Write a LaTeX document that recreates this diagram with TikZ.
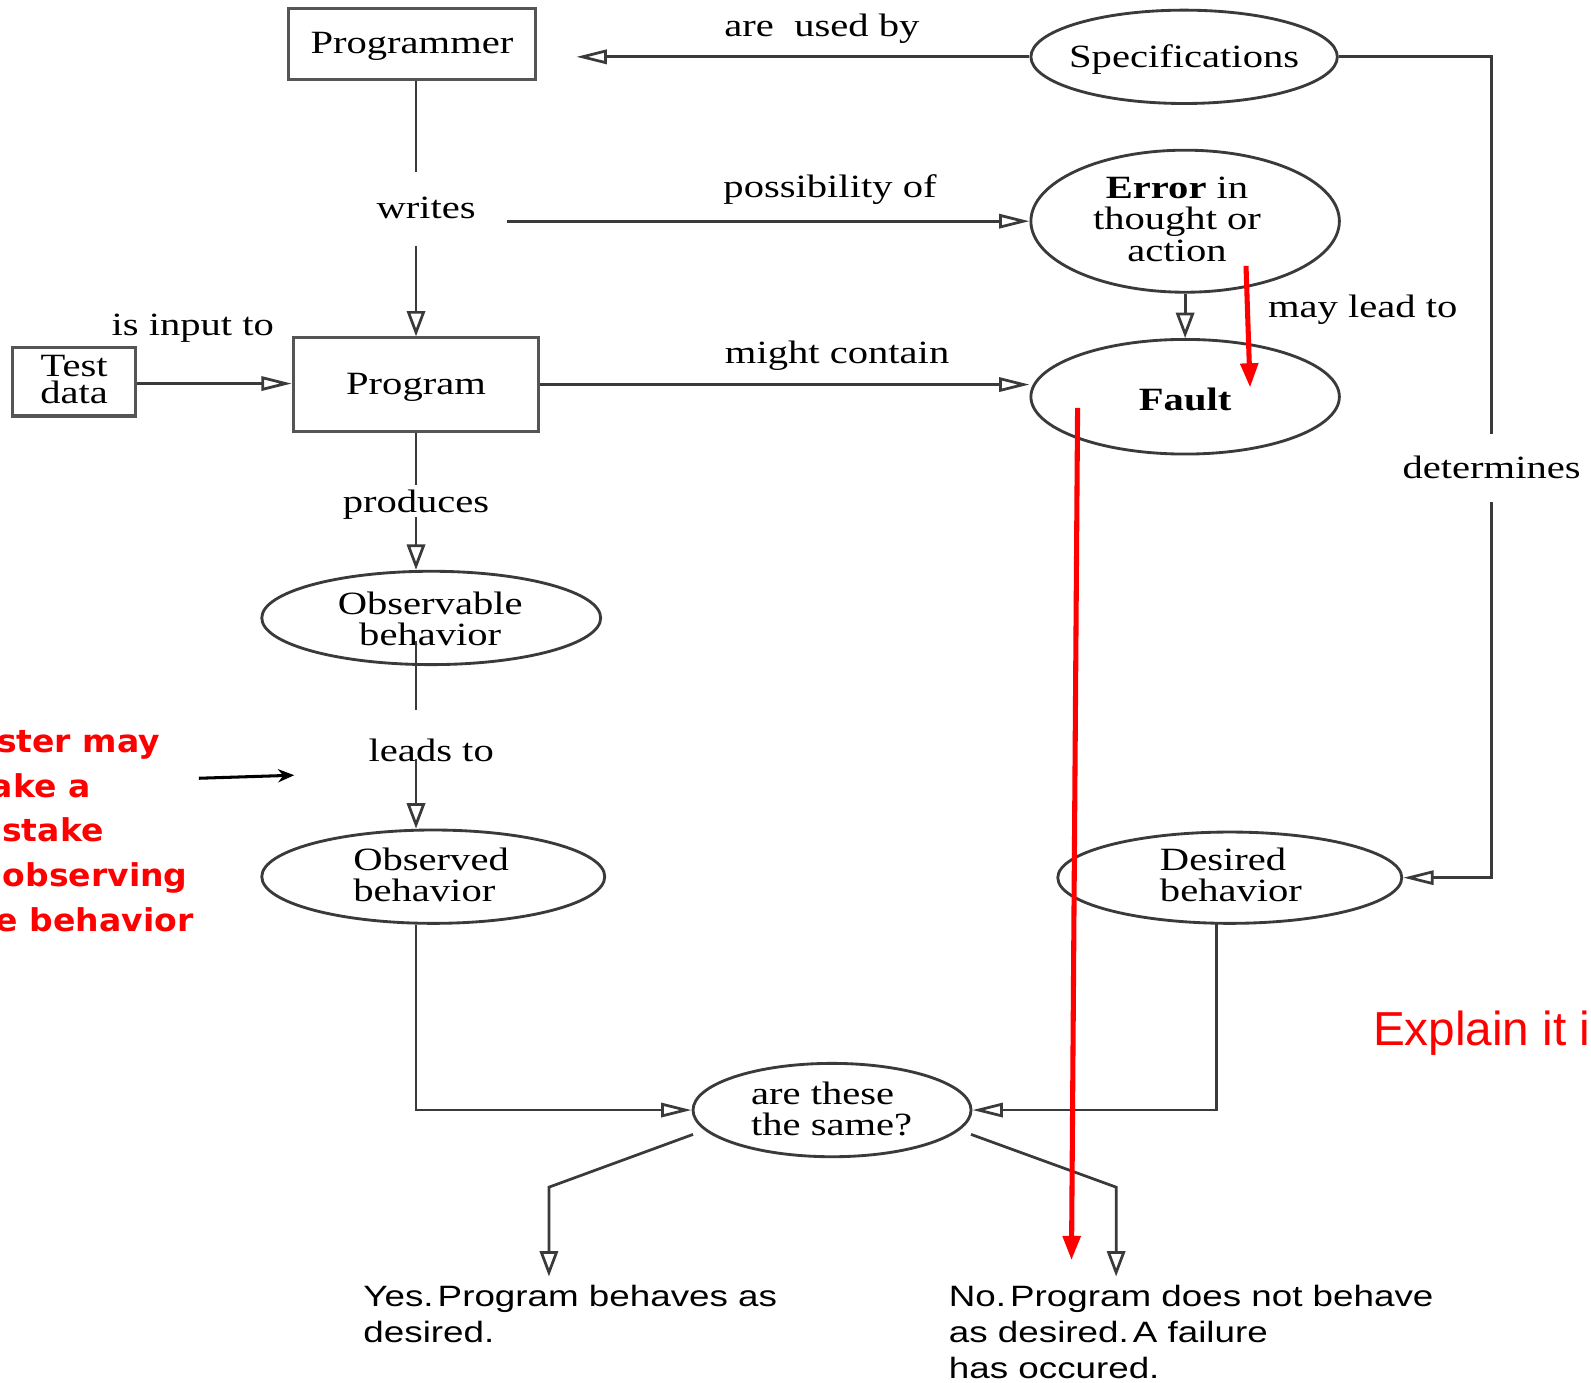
\documentclass[tikz,border=0pt]{standalone}
\usepackage{fontspec}
\usetikzlibrary{arrows.meta,shapes.geometric}
\newfontfamily\dgserif{Liberation Serif}[FakeStretch=1.25]
\newfontfamily\dgsans{Liberation Sans}[FakeStretch=1.25]
\newfontfamily\notefont{DejaVu Sans}[FakeStretch=1.05]
\newfontfamily\plainsans{Liberation Sans}
\definecolor{ln}{HTML}{3A3A3A}
\definecolor{boxc}{HTML}{555555}
\tikzset{
  base/.style={draw=ln, line width=2.7pt},
  harr/.style={-{Triangle[open,length=30pt,width=14pt]}},
  varr/.style={-{Triangle[open,length=25pt,width=18pt]}},
  box/.style={draw=boxc, line width=3pt, rectangle, inner sep=0pt,
    font=\dgserif\fontsize{32}{31}\selectfont, align=center,
    text height=22pt, text depth=2pt},
  oval/.style={draw=ln, line width=2.8pt, ellipse, inner sep=0pt},
  lbl/.style={font=\dgserif\fontsize{32}{31}\selectfont, inner sep=0pt, align=center},
  lbla/.style={lbl, yshift=-3pt},
  ans/.style={font=\dgsans\fontsize{29}{35.5}\selectfont, inner sep=0pt, align=left, anchor=north west},
  note/.style={text=red, font=\notefont\bfseries\fontsize{31}{44}\selectfont, align=left, inner sep=0pt},
  redarr/.style={draw=red, line width=5pt, -{Triangle[length=24pt,width=17pt]}},
}
\begin{document}
\begin{tikzpicture}[x=1pt,y=-1pt]
\useasboundingbox (0,0) rectangle (1568,1363);
\fill[white] (0,0) rectangle (1568,1363);
\clip (0,0) rectangle (1568,1363);

% boxes
\node[box, minimum width=244pt, minimum height=70pt] (pgmr) at (406,43) {Programmer};
\node[box, minimum width=242pt, minimum height=92pt] (prg) at (410,379) {Program};
\node[draw=boxc, line width=3pt, rectangle, inner sep=0pt, minimum width=122pt, minimum height=68pt] (test) at (73,376) {};
\node[lbl, font=\dgserif\fontsize{32}{26}\selectfont] (testt) at (73,374) {Test\\data};

% ellipses
\node[oval, minimum width=302pt, minimum height=92pt] (spec) at (1167,56) {};
\node[lbla] (spect) at (1167,56) {Specifications};
\node[oval, minimum width=304pt, minimum height=140pt] (err) at (1168,218) {};
\node[lbl] (errt) at (1160,216) {\textbf{Error} in\\thought or\\action};
\node[oval, minimum width=304pt, minimum height=113pt] (fault) at (1168,391) {};
\node[lbla] (faultt) at (1168,391) {\textbf{Fault}};
\node[oval, minimum width=334pt, minimum height=92pt] (obs) at (425,609) {};
\node[lbl] (obst) at (424,610) {Observable\\behavior};
\node[oval, minimum width=338pt, minimum height=92pt] (obsd) at (427,864) {};
\node[lbl, align=left, anchor=west] (obsdt) at (348,862) {Observed\\behavior};
\node[oval, minimum width=339pt, minimum height=90pt] (desired) at (1212,865) {};
\node[lbl, align=left, anchor=west] (desiredt) at (1143,862) {Desired\\behavior};
\node[oval, minimum width=274pt, minimum height=92pt] (same) at (820,1094) {};
\node[lbl, align=left, anchor=west] (samet) at (740,1093) {are these\\the same?};

% connector labels
\node[lbla] (usedby) at (810,25) {are\ \ used by};
\node[lbla] (writes) at (420,202) {writes};
\node[lbla] (possib) at (818,184) {possibility of};
\node[lbla] (maylead) at (1343,302) {may lead to};
\node[lbla] (input) at (190,320) {is input to};
\node[lbla] (might) at (825,348) {might contain};
\node[lbla, minimum height=67pt] (det) at (1470,458) {determines};
\node[lbla] (produces) at (410,494) {produces};
\node[lbla] (leads) at (425,737) {leads to};

% free ends
\coordinate (usedtip) at (568,56);
\coordinate (w1) at (410,170);
\coordinate (w2) at (410,242);
\coordinate (w3) at (500,217);
\coordinate (p1) at (410,478);
\coordinate (p2) at (410,510);
\coordinate (l1) at (410,632);
\coordinate (l2) at (410,700);
\coordinate (l3) at (410,748);
\coordinate (dd) at (1199,910);
\coordinate (y0) at (683,1118);
\coordinate (y1) at (541,1170);
\coordinate (y2) at (541,1258);
\coordinate (n0) at (957,1118);
\coordinate (n1) at (1100,1170);
\coordinate (n2) at (1100,1258);

% connectors
\draw[base,harr] (spec.west) -- (usedtip);
\draw[base] (spec.east) -| (det.north);
\draw[base,harr] (det.south) |- (desired.east);
\draw[base] (w1 |- pgmr.south) -- (w1);
\draw[base,varr] (w2) -- (w2 |- prg.north);
\draw[base,harr] (w3 |- err.west) -- (err.west);
\draw[base,harr] ([yshift=-2pt]test.east) -- ([yshift=-2pt]test.east -| prg.west);
\draw[base,harr] (prg.east) -- (prg.east -| fault.west);
\draw[base,varr] (err.south) -- (fault.north);
\draw[base] (prg.south) -- (p1);
\draw[base,varr] (p2) -- (p2 |- obs.north);
\draw[base] (l1) -- (l2);
\draw[base,varr] (l3) -- (l3 |- obsd.north);
\draw[base,harr] (l1 |- obsd.south) |- (same.west);
\draw[base,harr] (dd) |- (same.east);
\draw[base,varr] (y0) -- (y1) -- (y2);
\draw[base,varr] (n0) -- (n1) -- (n2);

% outcomes
\node[ans] (yes) at (358,1266) {Yes.\kern4pt Program behaves as\\desired.};
\node[ans] (no) at (935,1266) {No.\kern4pt Program does not behave\\as desired.\kern4pt A failure\\has occured.};

% annotations
\node[note, anchor=north west] (tester) at (-43,719) {Tester may\\make a\\mistake\\in observing\\the behavior};
\coordinate (ba0) at (196,767);
\coordinate (ba1) at (290,764);
\draw[line width=3pt, -{Stealth[length=16pt,width=13pt]}] (ba0) -- (ba1);
\coordinate (r0) at (1228,262);
\coordinate (r1) at (1232,382);
\coordinate (r2) at (1062,402);
\coordinate (r3) at (1056,1242);
\draw[redarr] (r0) -- (r1);
\draw[redarr] (r2) -- (r3);
\node[text=red, font=\plainsans\fontsize{47}{50}\selectfont, anchor=base west, inner sep=0pt] (expl) at (1353,1030) {Explain it in};
\end{tikzpicture}
\end{document}
